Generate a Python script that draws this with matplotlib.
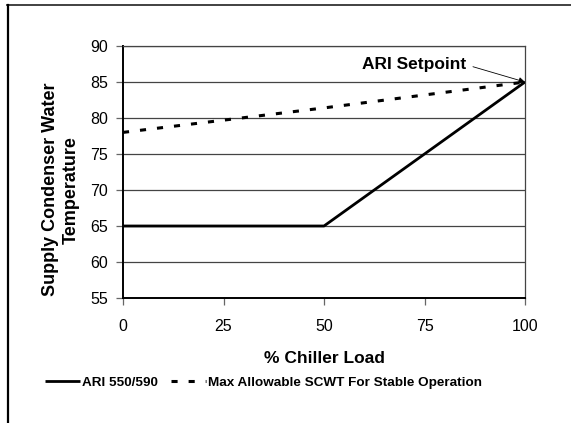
#!/usr/bin/env python3
import matplotlib
matplotlib.use('Agg')
import matplotlib.pyplot as plt
from matplotlib.lines import Line2D

plt.rcParams['font.family'] = ['Liberation Sans', 'DejaVu Sans']

# data
load_ari = [0, 50, 100]
scwt_ari = [65, 65, 85]
load_max = [0, 25, 50, 75, 100]
scwt_max = [78, 79.7, 81.4, 83.2, 85]
x_ticks = [0, 25, 50, 75, 100]
y_ticks = [55, 60, 65, 70, 75, 80, 85, 90]

fig = plt.figure(figsize=(5.71, 4.23), dpi=100)
ax = fig.add_axes([123 / 571, 1 - 298 / 423, 402 / 571, 252 / 423])

# outer frame (top and left edges only visible)
fig.add_artist(Line2D([7 / 571, 1], [1 - 5 / 423, 1 - 5 / 423], transform=fig.transFigure,
                      color='#333333', lw=1.3))
fig.add_artist(Line2D([7.5 / 571, 7.5 / 571], [0, 1 - 5 / 423], transform=fig.transFigure,
                      color='black', lw=1.6))

ax.plot(load_ari, scwt_ari, color='black', lw=2.0, solid_capstyle='butt',
        label='ARI 550/590', zorder=3)
ax.plot(load_max, scwt_max, color='black', lw=2.2, dashes=(2.0, 3.6), dash_capstyle='butt',
        label='Max Allowable SCWT For Stable Operation', zorder=3)

ax.set_xlim(0, 100)
ax.set_ylim(55, 90)
ax.set_xticks(x_ticks)
ax.set_yticks(y_ticks)
ax.yaxis.grid(True, color='#444444', lw=0.9)
ax.set_axisbelow(True)

for side in ['top', 'right']:
    ax.spines[side].set_color('#444444')
    ax.spines[side].set_linewidth(0.9)
for side in ['left', 'bottom']:
    ax.spines[side].set_color('black')
    ax.spines[side].set_linewidth(1.4)

ax.tick_params(axis='both', direction='out', length=5, width=0.9, color='#666666',
               labelsize=11.5)
ax.tick_params(axis='y', pad=6)
ax.tick_params(axis='x', pad=10)

ax.set_xlabel('% Chiller Load', fontsize=12.5, fontweight='bold', labelpad=12)
ax.set_ylabel('Supply Condenser Water\nTemperature', fontsize=13, fontweight='bold',
              linespacing=1.3)
ax.yaxis.set_label_coords(-0.107, 0.43)

ax.annotate('ARI Setpoint', xy=(100, 85), xytext=(72.4, 87.4),
            fontsize=12.5, fontweight='bold', ha='center', va='center',
            arrowprops=dict(arrowstyle='-|>', color='black', lw=0.6, relpos=(1.0, 0.5),
                            shrinkA=3, shrinkB=0, mutation_scale=9))

ax.legend(loc='center', bbox_to_anchor=(0.35, -0.337), ncol=2, frameon=False,
          prop={'weight': 'bold', 'size': 9.7}, handlelength=2.6,
          handletextpad=0.15, columnspacing=1.0)

fig.savefig('out.png', dpi=100)
